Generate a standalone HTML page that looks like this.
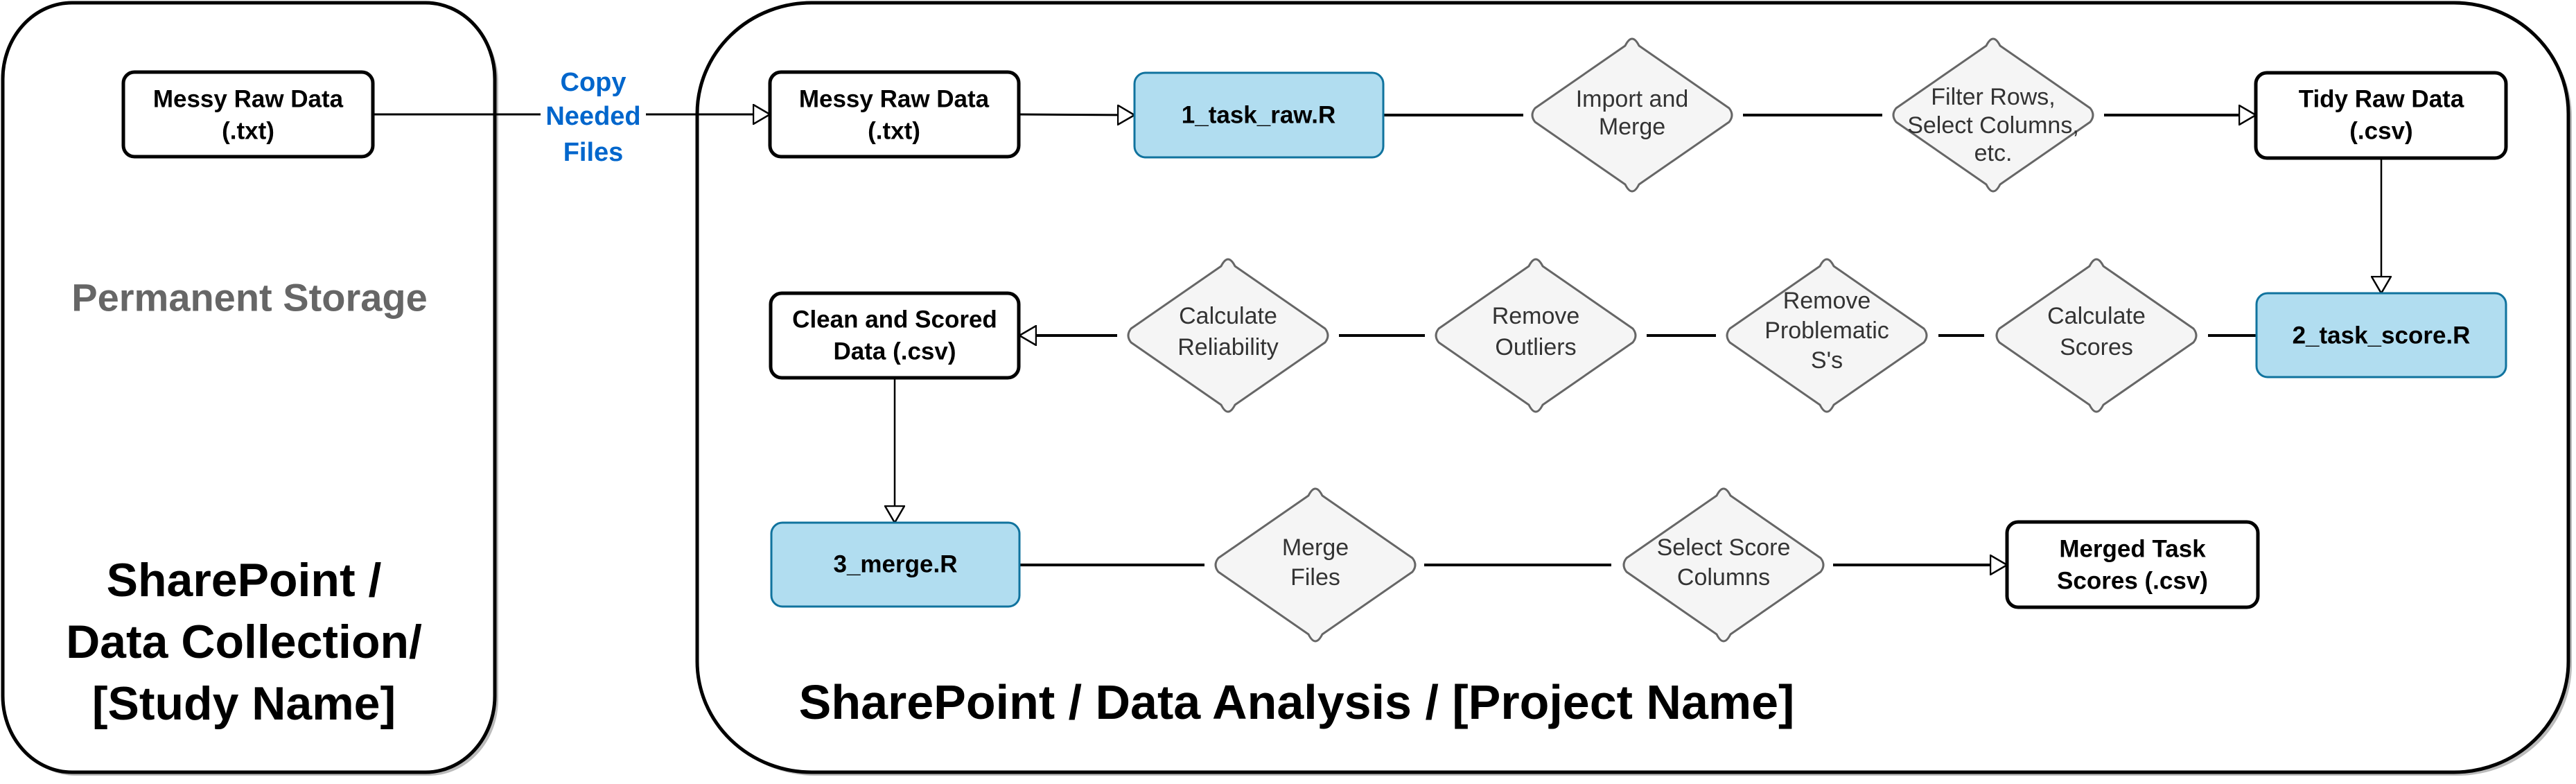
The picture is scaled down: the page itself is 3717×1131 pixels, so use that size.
<!DOCTYPE html>
<html><head><meta charset="utf-8"><style>
html,body{margin:0;padding:0;background:#fff;}
svg{display:block;}
text{font-family:"Liberation Sans",Arial,sans-serif;}
.b{font-weight:bold;font-size:35px;fill:#000;text-anchor:middle;dominant-baseline:central;}
.d{font-size:34px;fill:#333;text-anchor:middle;dominant-baseline:central;}
</style></head><body>
<svg width="3717" height="1131" viewBox="0 0 3717 1131" xmlns="http://www.w3.org/2000/svg">
<defs>
<marker id="ar" viewBox="0 0 26 30" refX="25" refY="15" markerWidth="26" markerHeight="30" markerUnits="userSpaceOnUse" orient="auto">
<path d="M1,1 L25,15 L1,29 Z" fill="#fff" stroke="#000" stroke-width="2.5"/>
</marker>
</defs>
<!-- containers -->
<rect x="9" y="9" width="710" height="1110" rx="100" ry="110" fill="#bbb"/>
<rect x="4" y="4" width="710" height="1110" rx="100" ry="110" fill="#fff" stroke="#000" stroke-width="5"/>
<rect x="1011" y="9" width="2700" height="1110" rx="165" ry="160" fill="#bbb"/>
<rect x="1006" y="4" width="2700" height="1110" rx="165" ry="160" fill="#fff" stroke="#000" stroke-width="5"/>

<!-- connectors -->
<g stroke="#000" fill="none">
<line x1="538" y1="165" x2="1111" y2="165" stroke-width="3" marker-end="url(#ar)"/>
<line x1="1470" y1="165" x2="1637" y2="166" stroke-width="3" marker-end="url(#ar)"/>
<line x1="1997" y1="166" x2="2198" y2="166" stroke-width="4"/>
<line x1="2515" y1="166" x2="2716" y2="166" stroke-width="4"/>
<line x1="3036" y1="166" x2="3255" y2="166" stroke-width="4" marker-end="url(#ar)"/>
<line x1="3436" y1="228" x2="3436" y2="423" stroke-width="2.5" marker-end="url(#ar)"/>
<line x1="3256" y1="484" x2="3186" y2="484" stroke-width="4"/>
<line x1="2863" y1="484" x2="2797" y2="484" stroke-width="4"/>
<line x1="2476" y1="484" x2="2376" y2="484" stroke-width="4"/>
<line x1="2056" y1="484" x2="1932" y2="484" stroke-width="4"/>
<line x1="1612" y1="484" x2="1471" y2="484" stroke-width="4" marker-end="url(#ar)"/>
<line x1="1291" y1="546" x2="1291" y2="754" stroke-width="2.5" marker-end="url(#ar)"/>
<line x1="1471" y1="815" x2="1738" y2="815" stroke-width="4"/>
<line x1="2055" y1="815" x2="2325" y2="815" stroke-width="4"/>
<line x1="2645" y1="815" x2="2896" y2="815" stroke-width="4" marker-end="url(#ar)"/>
</g>

<!-- copy label -->
<rect x="780" y="95" width="152" height="145" fill="#fff"/>
<text x="856" y="119" font-size="38" font-weight="bold" fill="#0066cc" text-anchor="middle" dominant-baseline="central">Copy</text>
<text x="856" y="168" font-size="38" font-weight="bold" fill="#0066cc" text-anchor="middle" dominant-baseline="central">Needed</text>
<text x="856" y="220" font-size="38" font-weight="bold" fill="#0066cc" text-anchor="middle" dominant-baseline="central">Files</text>

<!-- black boxes -->
<g fill="#fff" stroke="#000" stroke-width="5">
<rect x="178" y="104" width="360" height="122" rx="16"/>
<rect x="1111" y="104" width="359" height="122" rx="16"/>
<rect x="3255" y="105" width="361" height="123" rx="16"/>
<rect x="1112" y="423" width="358" height="122" rx="16"/>
<rect x="2896" y="753" width="362" height="123" rx="16"/>
</g>
<!-- blue boxes -->
<g fill="#b1ddf0" stroke="#10739e" stroke-width="3">
<rect x="1637" y="105" width="359" height="122" rx="16"/>
<rect x="3256" y="423" width="360" height="121" rx="16"/>
<rect x="1113" y="754" width="358" height="121" rx="16"/>
</g>

<!-- diamonds -->
<g fill="#f5f5f5" stroke="#666" stroke-width="3" stroke-linejoin="round">
<path d="M2355,50 Q2363,47 2370,56 L2495,154 Q2503,166 2495,178 L2370,276 Q2355,286 2340,276 L2215,178 Q2207,166 2215,154 L2340,56 Q2347,47 2355,50Z" style="display:none"/>
</g>
<g fill="#f5f5f5" stroke="#666" stroke-width="3" stroke-linejoin="round" id="dia">
<!-- generic diamond drawn via polygon with rounded joins -->
</g>
<g fill="#f5f5f5" stroke="#666" stroke-width="3">
<path d="M2345,54 Q2355,38 2365,54 L2497,156 Q2507,166 2497,176 L2365,278 Q2355,294 2345,278 L2213,176 Q2203,166 2213,156 Z" style="display:none"/>
</g>
<g fill="#f5f5f5" stroke="#666" stroke-width="3">
<path d="M2345,62 Q2355,44 2365,62 L2497,154 Q2505,166 2497,178 L2365,270 Q2355,288 2345,270 L2213,178 Q2205,166 2213,154 Z" transform="translate(0,0)" style="display:none"/>
</g>
<g fill="#f5f5f5" stroke="#666" stroke-width="3">
<path id="dp" d="M-10,-100 Q0,-120 10,-100 L140,-10 Q148,0 140,10 L10,100 Q0,120 -10,100 L-140,10 Q-148,0 -140,-10 Z" transform="translate(2355,166)"/>
<path d="M-10,-100 Q0,-120 10,-100 L140,-10 Q148,0 140,10 L10,100 Q0,120 -10,100 L-140,10 Q-148,0 -140,-10 Z" transform="translate(2876,166)"/>
<path d="M-10,-100 Q0,-120 10,-100 L140,-10 Q148,0 140,10 L10,100 Q0,120 -10,100 L-140,10 Q-148,0 -140,-10 Z" transform="translate(1772,484)"/>
<path d="M-10,-100 Q0,-120 10,-100 L140,-10 Q148,0 140,10 L10,100 Q0,120 -10,100 L-140,10 Q-148,0 -140,-10 Z" transform="translate(2216,484)"/>
<path d="M-10,-100 Q0,-120 10,-100 L140,-10 Q148,0 140,10 L10,100 Q0,120 -10,100 L-140,10 Q-148,0 -140,-10 Z" transform="translate(2636,484)"/>
<path d="M-10,-100 Q0,-120 10,-100 L140,-10 Q148,0 140,10 L10,100 Q0,120 -10,100 L-140,10 Q-148,0 -140,-10 Z" transform="translate(3025,484)"/>
<path d="M-10,-100 Q0,-120 10,-100 L140,-10 Q148,0 140,10 L10,100 Q0,120 -10,100 L-140,10 Q-148,0 -140,-10 Z" transform="translate(1898,815)"/>
<path d="M-10,-100 Q0,-120 10,-100 L140,-10 Q148,0 140,10 L10,100 Q0,120 -10,100 L-140,10 Q-148,0 -140,-10 Z" transform="translate(2487,815)"/>
</g>

<!-- box labels -->
<text class="b" x="358" y="143">Messy Raw Data</text>
<text class="b" x="358" y="189">(.txt)</text>
<text class="b" x="1290" y="143">Messy Raw Data</text>
<text class="b" x="1290" y="189">(.txt)</text>
<text class="b" x="1816" y="166">1_task_raw.R</text>
<text class="b" x="3436" y="143">Tidy Raw Data</text>
<text class="b" x="3436" y="189">(.csv)</text>
<text class="b" x="3436" y="484">2_task_score.R</text>
<text class="b" x="1291" y="461">Clean and Scored</text>
<text class="b" x="1291" y="507">Data (.csv)</text>
<text class="b" x="1292" y="814">3_merge.R</text>
<text class="b" x="3077" y="792">Merged Task</text>
<text class="b" x="3077" y="838">Scores (.csv)</text>

<!-- diamond labels -->
<text class="d" x="2355" y="143">Import and</text>
<text class="d" x="2355" y="183">Merge</text>
<text class="d" x="2876" y="140">Filter Rows,</text>
<text class="d" x="2876" y="181">Select Columns,</text>
<text class="d" x="2876" y="221">etc.</text>
<text class="d" x="1772" y="456">Calculate</text>
<text class="d" x="1772" y="501">Reliability</text>
<text class="d" x="2216" y="456">Remove</text>
<text class="d" x="2216" y="501">Outliers</text>
<text class="d" x="2636" y="434">Remove</text>
<text class="d" x="2636" y="477">Problematic</text>
<text class="d" x="2636" y="520">S's</text>
<text class="d" x="3025" y="456">Calculate</text>
<text class="d" x="3025" y="501">Scores</text>
<text class="d" x="1898" y="790">Merge</text>
<text class="d" x="1898" y="833">Files</text>
<text class="d" x="2487" y="790">Select Score</text>
<text class="d" x="2487" y="833">Columns</text>

<!-- titles -->
<text x="360" y="429" font-size="56" font-weight="bold" fill="#666" text-anchor="middle" dominant-baseline="central">Permanent Storage</text>
<text x="352" y="837" font-size="68" font-weight="bold" fill="#000" text-anchor="middle" dominant-baseline="central">SharePoint /</text>
<text x="352" y="926" font-size="68" font-weight="bold" fill="#000" text-anchor="middle" dominant-baseline="central">Data Collection/</text>
<text x="352" y="1015" font-size="68" font-weight="bold" fill="#000" text-anchor="middle" dominant-baseline="central">[Study Name]</text>
<text x="1871" y="1037" font-size="70" font-weight="bold" fill="#000" text-anchor="middle">SharePoint / Data Analysis / [Project Name]</text>
</svg>
</body></html>
